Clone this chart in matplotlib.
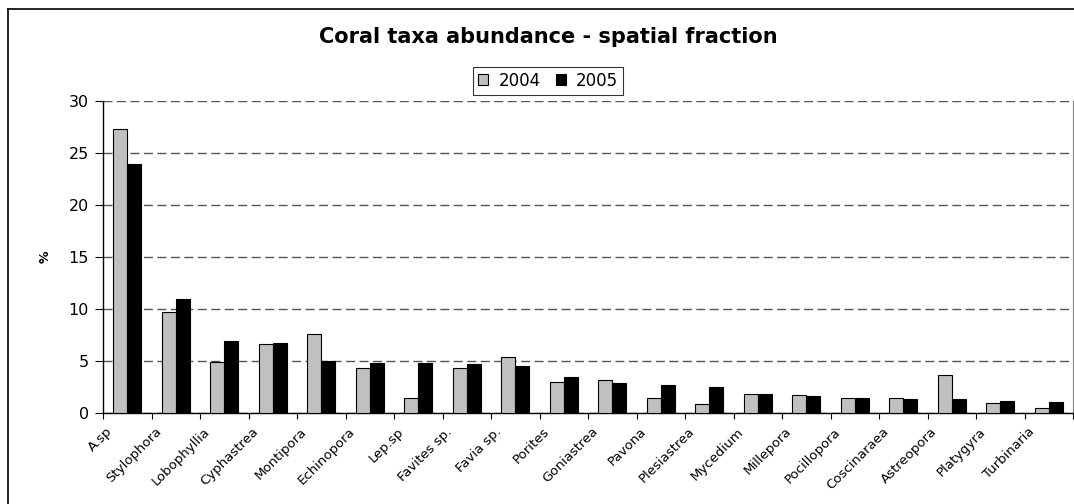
import matplotlib.pyplot as plt
import matplotlib.transforms as mtransforms
from matplotlib.lines import Line2D
import numpy as np

plt.rcParams['font.family'] = ['DejaVu Sans']

# Data
taxa = ['A.sp', 'Stylophora', 'Lobophyllia', 'Cyphastrea', 'Montipora', 'Echinopora',
        'Lep.sp', 'Favites sp.', 'Favia sp.', 'Porites', 'Goniastrea', 'Pavona',
        'Plesiastrea', 'Mycedium', 'Millepora', 'Pocillopora', 'Coscinaraea',
        'Astreopora', 'Platygyra', 'Turbinaria']
y2004 = [27.3, 9.7, 4.9, 6.6, 7.6, 4.3, 1.4, 4.3, 5.4, 3.0, 3.2, 1.4, 0.9, 1.8, 1.7,
         1.4, 1.4, 3.7, 1.0, 0.5]
y2005 = [23.9, 11.0, 6.9, 6.7, 5.0, 4.8, 4.8, 4.7, 4.5, 3.5, 2.9, 2.7, 2.5, 1.8, 1.6,
         1.4, 1.3, 1.3, 1.2, 1.1]

W, H = 1074, 504
fig = plt.figure(figsize=(W / 100, H / 100), dpi=100)
ax = fig.add_axes([103 / W, 1 - 413 / H, 970 / W, 312 / H])

x = np.arange(len(taxa))
bw = 0.285
ax.bar(x - bw / 2, y2004, bw, color='#C0C0C0', edgecolor='black', linewidth=0.8,
       label='2004', zorder=3)
ax.bar(x + bw / 2, y2005, bw, color='black', edgecolor='black', linewidth=0.8,
       label='2005', zorder=3)

ax.set_xlim(-0.5, len(taxa) - 0.5)
ax.set_ylim(0, 30)
ax.set_yticks(range(0, 31, 5))
ax.yaxis.grid(True, linestyle=(0, (6.5, 3.2)), color='#555555', linewidth=1.0, zorder=0)

# ticks between categories, labels at centres
ax.set_xticks(np.arange(-0.5, len(taxa), 1.0))
ax.set_xticklabels([])
ax.tick_params(axis='x', direction='out', length=4, width=0.8, color='black')
ax.tick_params(axis='y', direction='out', length=6, width=0.8, labelsize=11.5, pad=4)

offset = mtransforms.ScaledTranslation(-21 / 100, -12 / 100, fig.dpi_scale_trans)
for i, name in enumerate(taxa):
    ax.text(i, 0, name, rotation=45, ha='right', va='top', rotation_mode='anchor',
            fontsize=9.5, transform=ax.get_xaxis_transform() + offset)

ax.spines['top'].set_visible(False)
ax.spines['right'].set_color('#808080')
ax.spines['left'].set_linewidth(1.0)
ax.spines['bottom'].set_linewidth(1.0)

ax.set_ylabel('%', fontsize=9, fontweight='bold', labelpad=12)

fig.text(548 / W, 1 - 37 / H, 'Coral taxa abundance - spatial fraction',
         ha='center', va='center', fontsize=15, fontweight='bold')

leg = ax.legend(loc='center', bbox_to_anchor=(548 / W, 1 - 80.5 / H),
                bbox_transform=fig.transFigure, ncol=2, frameon=True, fancybox=False,
                fontsize=12, handlelength=0.6, handleheight=0.6, handletextpad=0.6,
                columnspacing=0.9, borderpad=0.3, borderaxespad=0)
leg.get_frame().set_edgecolor('black')
leg.get_frame().set_linewidth(0.8)

# outer chart frame (left and top visible)
fig.add_artist(Line2D([8 / W, 8 / W], [0, 1 - 9 / H], transform=fig.transFigure,
                      color='black', linewidth=1.2))
fig.add_artist(Line2D([8 / W, 1], [1 - 9 / H, 1 - 9 / H], transform=fig.transFigure,
                      color='black', linewidth=1.2))

plt.savefig('out.png', dpi=100)
